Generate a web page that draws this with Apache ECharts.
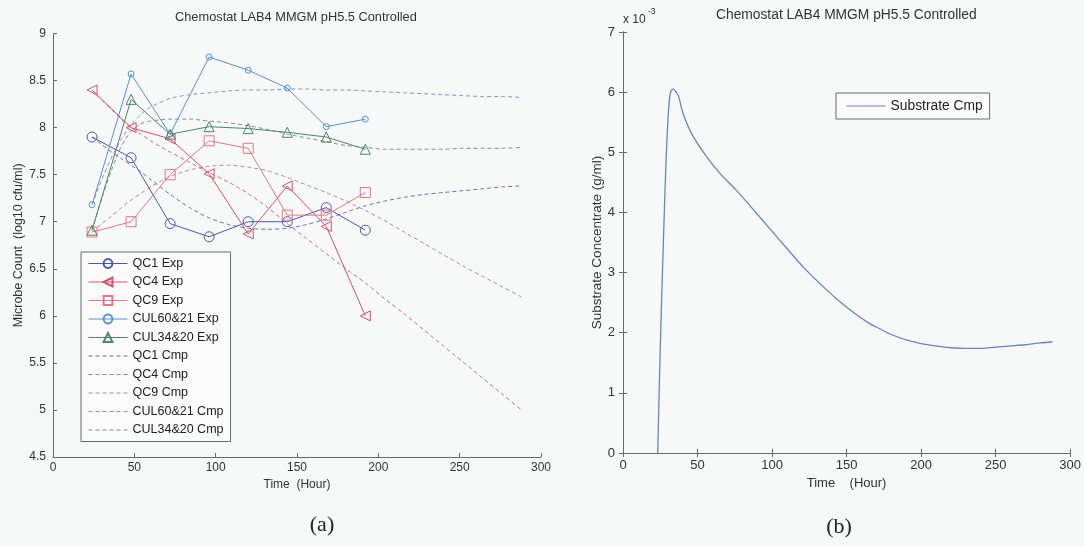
<!DOCTYPE html>
<html>
<head>
<meta charset="utf-8">
<script src="https://cdn.jsdelivr.net/npm/echarts@6/dist/echarts.min.js"></script>
<style>
html,body{margin:0;padding:0;background:#f7f8f8;}
#chart{width:1084px;height:546px;}
</style>
</head>
<body>
<div id="chart"></div>
<script>
// ---------- data ----------
const expTimes = [24, 48, 72, 96, 120, 144, 168, 192];
const qc1Exp    = [7.90, 7.68, 6.98, 6.84, 7.00, 7.00, 7.15, 6.91];
const qc4Exp    = [8.40, 8.00, 7.88, 7.51, 6.87, 7.38, 6.95, 6.00];
const qc9Exp    = [6.89, 7.00, 7.50, 7.86, 7.78, 7.07, 7.07, 7.31];
const cul6021Exp = [7.18, 8.57, 7.93, 8.75, 8.61, 8.42, 8.01, 8.09];
const cul3420Exp = [6.91, 8.30, 7.93, 8.01, 7.99, 7.95, 7.90, 7.77];

const cmpTimes = [24, 30, 36, 42, 48, 54, 60, 72, 84, 96, 108, 120, 132, 144, 156, 168, 180, 192, 204, 216, 228, 240, 252, 264, 276, 288];
const qc1Cmp    = [7.90, 7.82, 7.74, 7.67, 7.60, 7.53, 7.45, 7.29, 7.15, 7.04, 6.97, 6.93, 6.92, 6.93, 6.97, 7.03, 7.10, 7.17, 7.22, 7.26, 7.29, 7.31, 7.33, 7.35, 7.37, 7.38];
const qc4Cmp    = [8.40, 8.29, 8.19, 8.09, 8.00, 7.93, 7.86, 7.74, 7.63, 7.52, 7.42, 7.30, 7.15, 6.98, 6.82, 6.66, 6.50, 6.35, 6.18, 6.02, 5.85, 5.68, 5.51, 5.34, 5.17, 5.00];
const qc9Cmp    = [6.89, 6.98, 7.06, 7.15, 7.23, 7.30, 7.37, 7.48, 7.55, 7.59, 7.60, 7.58, 7.54, 7.47, 7.39, 7.31, 7.22, 7.12, 7.01, 6.89, 6.77, 6.65, 6.53, 6.42, 6.31, 6.20];
const cul6021Cmp = [7.18, 7.45, 7.68, 7.88, 8.03, 8.14, 8.22, 8.31, 8.35, 8.37, 8.39, 8.40, 8.40, 8.41, 8.41, 8.40, 8.40, 8.39, 8.38, 8.37, 8.36, 8.35, 8.34, 8.33, 8.33, 8.32];
const cul3420Cmp = [6.91, 7.25, 7.55, 7.80, 7.96, 8.04, 8.07, 8.09, 8.09, 8.07, 8.05, 8.02, 7.98, 7.93, 7.89, 7.85, 7.81, 7.79, 7.77, 7.77, 7.77, 7.77, 7.78, 7.78, 7.78, 7.79];

// substrate concentration, in units of 1e-3 g/ml
const substrateTimes = [23.3, 25, 27, 28.8, 30.4, 31.5, 32.5, 33.7, 35, 37, 40.4, 46, 54, 65, 76, 87, 98.5, 110, 121, 132, 143, 154, 165, 172, 180, 190, 200, 210, 220, 230, 240, 250, 260, 270, 280, 288];
const substrateE3    = [0, 1.75, 3.43, 4.81, 5.64, 5.95, 6.03, 6.05, 6.02, 5.95, 5.64, 5.31, 5.00, 4.65, 4.37, 4.06, 3.73, 3.40, 3.09, 2.82, 2.57, 2.35, 2.16, 2.07, 1.97, 1.88, 1.82, 1.78, 1.75, 1.74, 1.74, 1.76, 1.78, 1.80, 1.83, 1.85];

const leftXTicks = [0, 300, 50];
const leftYTicks = [4.5, 9, 0.5];
const rightXTicks = [0, 300, 50];
const rightYTicks = [0, 7, 1];

const leftNames = ['QC1 Exp', 'QC4 Exp', 'QC9 Exp', 'CUL60&21 Exp', 'CUL34&20 Exp', 'QC1 Cmp', 'QC4 Cmp', 'QC9 Cmp', 'CUL60&21 Cmp', 'CUL34&20 Cmp'];
const rightNames = ['Substrate Cmp'];

// ---------- chart ----------
const FONT = '"Liberation Sans", Arial, sans-serif';
const CLEAR = 'rgba(0,0,0,0)';
const zip = (xs, ys) => xs.map((x, i) => [x, ys[i]]);

function expSeries(name, data, color, symbol, size, rotate) {
  return {
    name, type: 'line', xAxisIndex: 0, yAxisIndex: 0,
    data: zip(expTimes, data),
    symbol, symbolSize: size, symbolRotate: rotate || 0,
    lineStyle: { color, width: 1 },
    itemStyle: { color: CLEAR, borderColor: color, borderWidth: 1 },
    emphasis: { disabled: true }, animation: false, z: 3
  };
}
function cmpSeries(name, data, color) {
  return {
    name, type: 'line', xAxisIndex: 0, yAxisIndex: 0,
    data: zip(cmpTimes, data), symbol: 'none', smooth: 0.25,
    lineStyle: { color, width: 1, type: [4, 3] },
    itemStyle: { color: CLEAR, borderColor: CLEAR, borderWidth: 0 },
    emphasis: { disabled: true }, animation: false, z: 2
  };
}

const axisCommon = {
  axisLine: { show: true, lineStyle: { color: '#6a6a6a', width: 1 } },
  axisTick: { show: true, inside: true, length: 4, lineStyle: { color: '#6a6a6a' } },
  splitLine: { show: false },
  axisLabel: { color: '#333', fontSize: 12, fontFamily: FONT }
};
const nameStyle = (size) => ({ color: '#333', fontSize: size, fontFamily: FONT });

const chart = echarts.init(document.getElementById('chart'), null, { renderer: 'canvas' });
chart.setOption({
  backgroundColor: '#f7f8f8',
  animation: false,
  grid: [
    { left: 53, top: 33.5, width: 488, height: 423.5 },
    { left: 623, top: 32, width: 448, height: 421 }
  ],
  xAxis: [
    Object.assign({}, axisCommon, { gridIndex: 0, type: 'value', min: leftXTicks[0], max: leftXTicks[1], interval: leftXTicks[2],
      axisLabel: Object.assign({}, axisCommon.axisLabel, { margin: 5 }),
      name: 'Time  (Hour)', nameLocation: 'middle', nameGap: 22, nameTextStyle: nameStyle(12) }),
    Object.assign({}, axisCommon, { gridIndex: 1, type: 'value', min: rightXTicks[0], max: rightXTicks[1], interval: rightXTicks[2],
      axisLabel: Object.assign({}, axisCommon.axisLabel, { margin: 6, fontSize: 13 }),
      name: 'Time    (Hour)', nameLocation: 'middle', nameGap: 23, nameTextStyle: nameStyle(13) }),
    Object.assign({}, axisCommon, { gridIndex: 1, type: 'value', position: 'top', min: rightXTicks[0], max: rightXTicks[1], interval: rightXTicks[2],
      axisLabel: { show: false } })
  ],
  yAxis: [
    Object.assign({}, axisCommon, { gridIndex: 0, type: 'value', min: leftYTicks[0], max: leftYTicks[1], interval: leftYTicks[2],
      axisLabel: Object.assign({}, axisCommon.axisLabel, { margin: 7 }),
      name: 'Microbe Count  (log10 cfu/ml)', nameLocation: 'middle', nameGap: 28, nameTextStyle: nameStyle(12.5) }),
    Object.assign({}, axisCommon, { gridIndex: 1, type: 'value', min: rightYTicks[0], max: rightYTicks[1], interval: rightYTicks[2],
      axisLabel: Object.assign({}, axisCommon.axisLabel, { margin: 8, fontSize: 13 }),
      name: 'Substrate Concentrate (g/ml)', nameLocation: 'middle', nameGap: 19, nameTextStyle: nameStyle(13.5) }),
    Object.assign({}, axisCommon, { gridIndex: 1, type: 'value', position: 'right', min: rightYTicks[0], max: rightYTicks[1], interval: rightYTicks[2],
      axisLabel: { show: false } })
  ],
  legend: [
    {
      data: leftNames, orient: 'vertical', left: 81, top: 252,
      padding: [5, 7, 5, 7], itemGap: 5.5, itemWidth: 39, itemHeight: 11,
      lineStyle: { width: 1 },
      backgroundColor: '#fbfbfb', borderColor: '#6a6a6a', borderWidth: 1, borderRadius: 0,
      textStyle: { color: '#222', fontSize: 12.5, fontFamily: FONT, lineHeight: 11 },
      selectedMode: false
    },
    {
      data: rightNames, orient: 'vertical', left: 836, top: 93,
      padding: [6, 7, 6, 10], itemWidth: 39, itemHeight: 12,
      lineStyle: { width: 1.2 },
      backgroundColor: '#fbfbfb', borderColor: '#6a6a6a', borderWidth: 1, borderRadius: 0,
      textStyle: { color: '#222', fontSize: 13.8, fontFamily: FONT },
      selectedMode: false
    }
  ],
  series: [
    expSeries('QC1 Exp', qc1Exp, '#4a5aa8', 'circle', 10),
    expSeries('QC4 Exp', qc4Exp, '#d6506a', 'triangle', 10, 90),
    expSeries('QC9 Exp', qc9Exp, '#e07886', 'rect', 10),
    expSeries('CUL60&21 Exp', cul6021Exp, '#5a8fd0', 'circle', 6),
    expSeries('CUL34&20 Exp', cul3420Exp, '#4f8568', 'triangle', 10),
    cmpSeries('QC1 Cmp', qc1Cmp, '#6a6fb4'),
    cmpSeries('QC4 Cmp', qc4Cmp, '#c4707e'),
    cmpSeries('QC9 Cmp', qc9Cmp, '#b98a92'),
    cmpSeries('CUL60&21 Cmp', cul6021Cmp, '#8c8ecc'),
    cmpSeries('CUL34&20 Cmp', cul3420Cmp, '#878b8d'),
    {
      name: 'Substrate Cmp', type: 'line', xAxisIndex: 1, yAxisIndex: 1,
      data: zip(substrateTimes, substrateE3), symbol: 'none', smooth: 0.3,
      lineStyle: { color: '#6b84be', width: 1.3 },
      itemStyle: { color: CLEAR, borderColor: CLEAR, borderWidth: 0 },
      emphasis: { disabled: true }, animation: false
    }
  ],
  graphic: [
    { type: 'text', x: 175, y: 17, style: { text: 'Chemostat LAB4 MMGM pH5.5 Controlled', fill: '#333', font: '12.8px ' + FONT, textAlign: 'left', textVerticalAlign: 'middle' } },
    { type: 'text', x: 716, y: 15, style: { text: 'Chemostat LAB4 MMGM pH5.5 Controlled', fill: '#333', font: '13.8px ' + FONT, textAlign: 'left', textVerticalAlign: 'middle' } },
    { type: 'text', x: 623, y: 20, style: { text: 'x 10', fill: '#333', font: '12px ' + FONT, textAlign: 'left', textVerticalAlign: 'middle' } },
    { type: 'text', x: 648, y: 12, style: { text: '-3', fill: '#333', font: '8.5px ' + FONT, textAlign: 'left', textVerticalAlign: 'middle' } },
    { type: 'text', x: 322, y: 525, style: { text: '(a)', fill: '#222', font: '22px "Liberation Serif", "Times New Roman", serif', textAlign: 'center', textVerticalAlign: 'middle' } },
    { type: 'text', x: 839, y: 527, style: { text: '(b)', fill: '#222', font: '22px "Liberation Serif", "Times New Roman", serif', textAlign: 'center', textVerticalAlign: 'middle' } }
  ]
});
</script>
</body>
</html>
